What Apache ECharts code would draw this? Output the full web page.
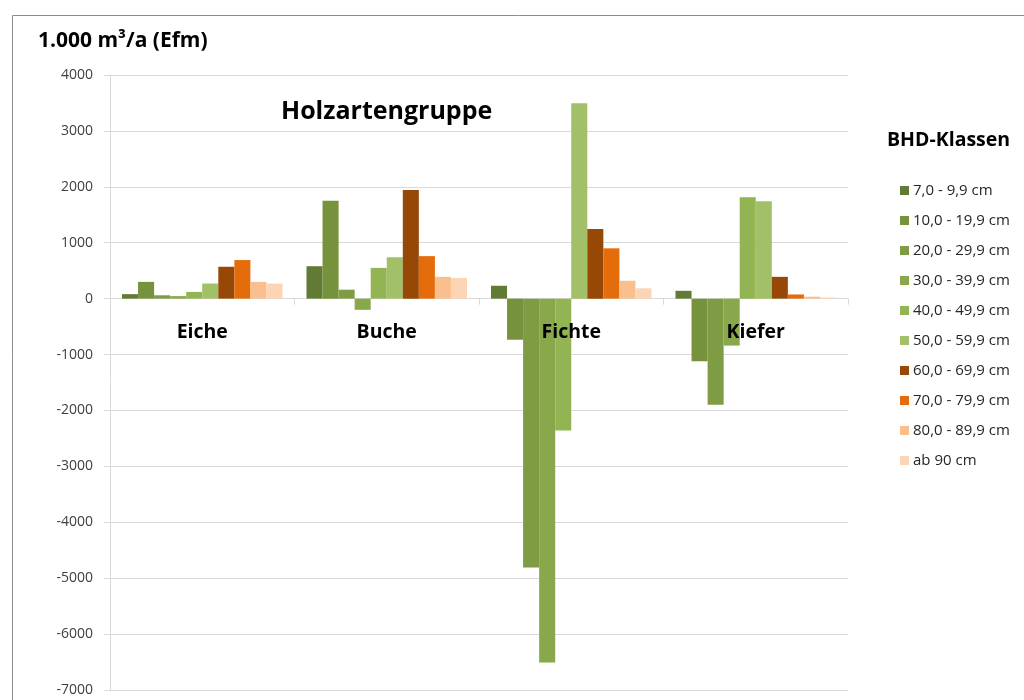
<!DOCTYPE html>
<html lang="de">
<head>
<meta charset="utf-8" />
<title>Holzartengruppe</title>
<style>
  html, body { margin: 0; padding: 0; background: #fff; }
  #chart { width: 1024px; height: 700px; }
</style>
</head>
<body>
<div id="chart"></div>
<script src="https://cdn.jsdelivr.net/npm/echarts@6/dist/echarts.min.js"></script>
<script>
// Holzartengruppen (Kategorien)
var categories = ['Eiche', 'Buche', 'Fichte', 'Kiefer'];

// BHD-Klassen (Serien)
var classNames = ['7,0 - 9,9 cm', '10,0 - 19,9 cm', '20,0 - 29,9 cm', '30,0 - 39,9 cm',
  '40,0 - 49,9 cm', '50,0 - 59,9 cm', '60,0 - 69,9 cm', '70,0 - 79,9 cm',
  '80,0 - 89,9 cm', 'ab 90 cm'];

// Werte je BHD-Klasse: Eiche, Buche, Fichte, Kiefer (1.000 m³/a)
var bhd7  = [80, 580, 230, 140];
var bhd10 = [300, 1750, -735, -1120];
var bhd20 = [60, 160, -4810, -1900];
var bhd30 = [45, -200, -6510, -840];
var bhd40 = [120, 550, -2360, 1815];
var bhd50 = [270, 740, 3495, 1740];
var bhd60 = [570, 1945, 1245, 390];
var bhd70 = [690, 760, 900, 75];
var bhd80 = [300, 390, 320, 35];
var bhd90 = [270, 370, 185, 20];

// y-Achse
var yMin = -7000, yMax = 4000, yStep = 1000;

var colors = ['#617a34', '#76923c', '#7f9c45', '#88a84b', '#93b453', '#a1c068',
  '#974806', '#e46c0a', '#fabf8f', '#fcd5b4'];

var values = [bhd7, bhd10, bhd20, bhd30, bhd40, bhd50, bhd60, bhd70, bhd80, bhd90];

var fontFam = '"Open Sans", "Liberation Sans", sans-serif';

var chart = echarts.init(document.getElementById('chart'));

var series = classNames.map(function (name, i) {
  return {
    name: name,
    type: 'bar',
    data: values[i],
    barGap: '0%',
    barCategoryGap: '13%',
    itemStyle: { color: colors[i] }
  };
});

chart.setOption({
  animation: false,
  color: colors,
  textStyle: { fontFamily: fontFam },
  graphic: [
    {
      type: 'rect',
      left: 10, top: 13,
      shape: { width: 1100, height: 800 },
      style: { fill: 'none', stroke: '#8c8c8c', lineWidth: 1 },
      silent: true
    },
    {
      type: 'text',
      left: 38, top: 31,
      style: { text: '1.000 m³/a (Efm)', font: 'bold 21px ' + fontFam, fill: '#000' }
    },
    {
      type: 'text',
      left: 281, top: 99,
      style: { text: 'Holzartengruppe', font: 'bold 25px ' + fontFam, fill: '#000' }
    },
    {
      type: 'text',
      left: 887, top: 130,
      style: { text: 'BHD-Klassen', font: 'bold 19.5px ' + fontFam, fill: '#000' }
    }
  ],
  legend: {
    orient: 'vertical',
    left: 895,
    top: 178,
    itemWidth: 9,
    itemHeight: 9,
    itemGap: 15,
    icon: 'rect',
    textStyle: { fontSize: 15, color: '#262626', fontFamily: fontFam, lineHeight: 15, padding: [0, 0, 0, -1] },
    data: classNames
  },
  grid: [
    { left: 110, right: 176, top: 75, bottom: 10, containLabel: false, outerBoundsMode: 'none' },
    // nur für die Kategorienbeschriftung an der Nulllinie
    { left: 110, right: 176, top: 75, bottom: 401, containLabel: false, outerBoundsMode: 'none' }
  ],
  xAxis: [
    {
      type: 'category',
      gridIndex: 0,
      data: categories,
      axisLine: { onZero: true, lineStyle: { color: '#d9d9d9' } },
      axisTick: { show: true, length: 6, lineStyle: { color: '#d9d9d9' } },
      axisLabel: { show: false },
      splitLine: { show: false }
    },
    {
      type: 'category',
      gridIndex: 1,
      data: categories,
      position: 'bottom',
      z: 10,
      axisLine: { show: false },
      axisTick: { show: false },
      axisLabel: { fontSize: 19.5, fontWeight: 'bold', color: '#000', margin: 23, fontFamily: fontFam },
      splitLine: { show: false }
    }
  ],
  yAxis: [
    {
      type: 'value',
      gridIndex: 0,
      min: yMin,
      max: yMax,
      interval: yStep,
      axisLine: { show: true, lineStyle: { color: '#d9d9d9' } },
      axisTick: { show: true, length: 6, lineStyle: { color: '#d9d9d9' } },
      axisLabel: {
        fontSize: 14, color: '#404040', margin: 17, fontFamily: fontFam,
        formatter: function (v) { return String(v); }
      },
      splitLine: { lineStyle: { color: '#d9d9d9' } }
    },
    {
      type: 'value',
      gridIndex: 1,
      show: false
    }
  ],
  series: series
});

window.onresize = function () { chart.resize(); };
</script>
</body>
</html>
